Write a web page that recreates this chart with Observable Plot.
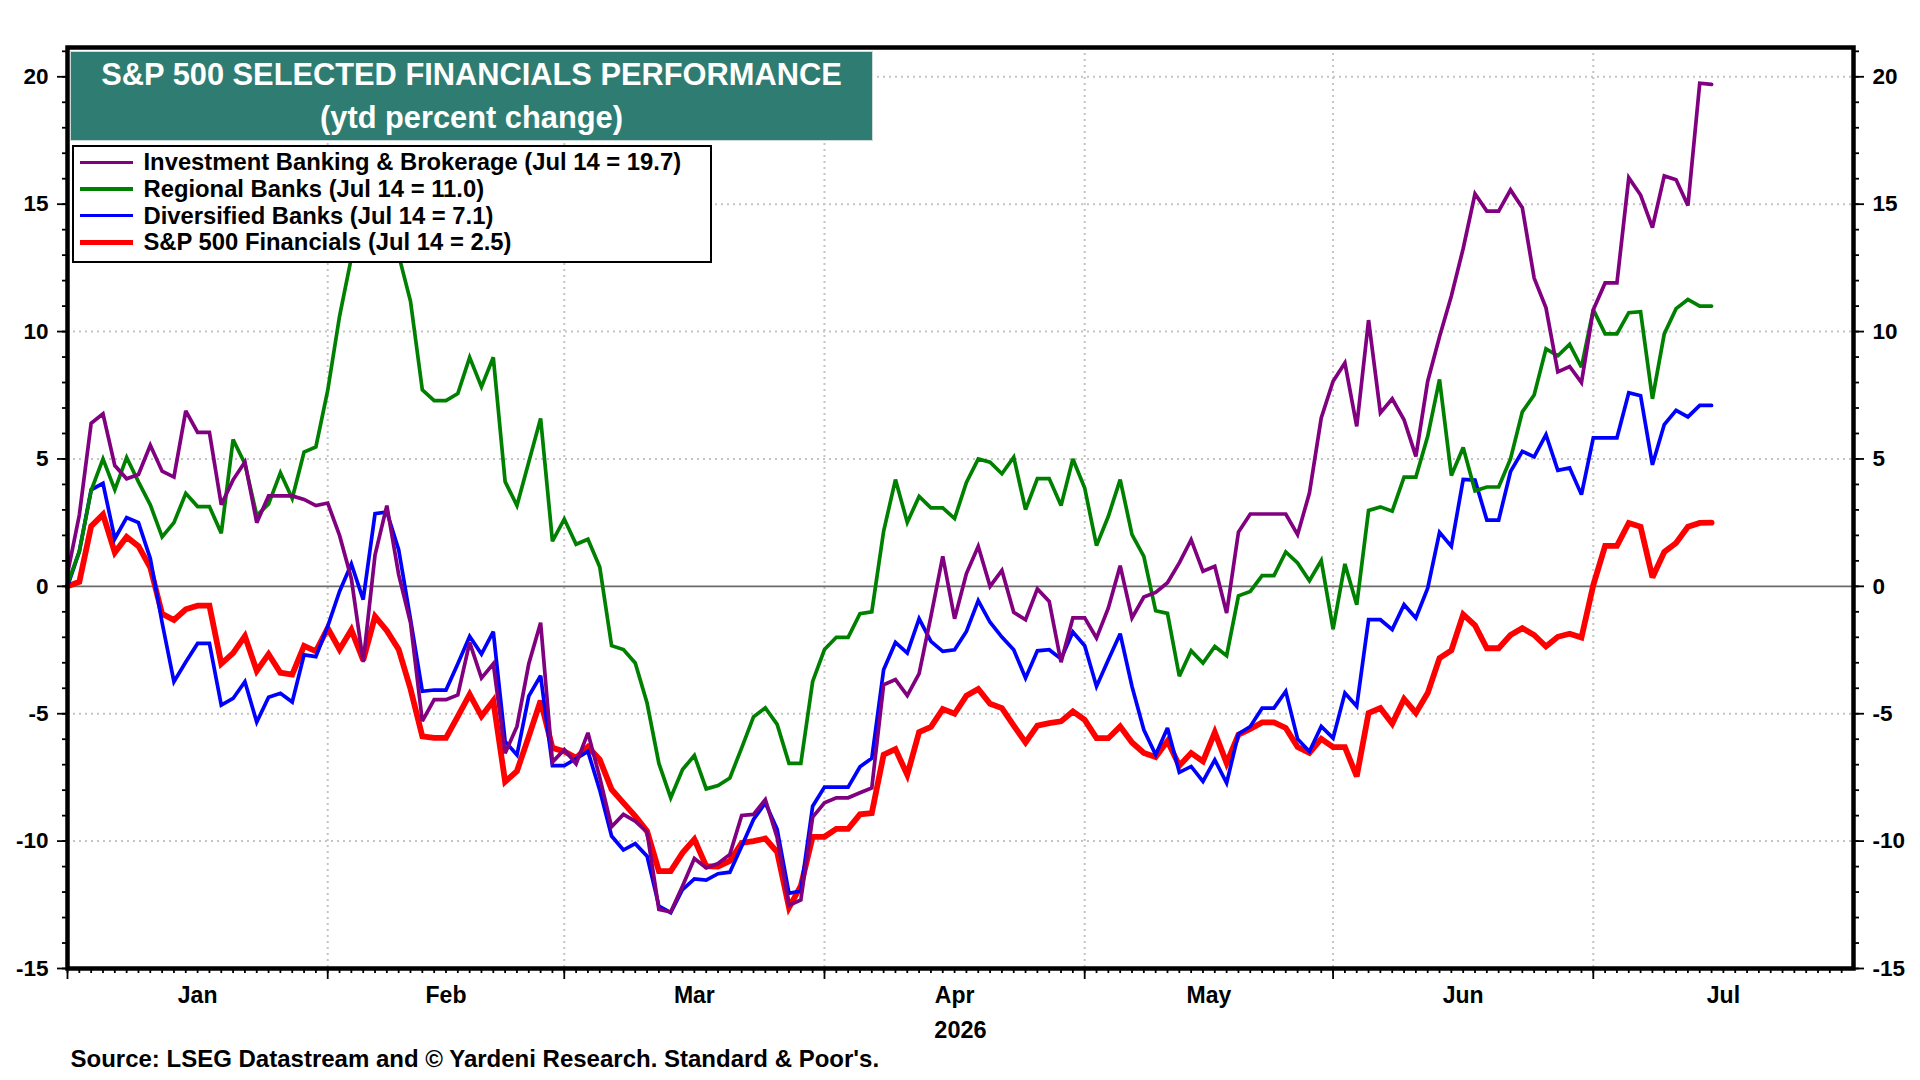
<!DOCTYPE html>
<html><head><meta charset="utf-8">
<script src="https://cdn.jsdelivr.net/npm/d3@7"></script>
<script src="https://cdn.jsdelivr.net/npm/@observablehq/plot@0.6"></script>
<style>
html,body{margin:0;padding:0;background:#fff;}
#wrap{position:relative;width:1920px;height:1080px;overflow:hidden;font-family:"Liberation Sans",Arial,sans-serif;font-weight:bold;}
#wrap svg{position:absolute;left:0;top:0;}
#title{position:absolute;left:70px;top:51px;width:803px;height:90px;box-sizing:border-box;background:#2f7d72;border:1px solid #c9dcd7;color:#fff;text-align:center;font-size:30.8px;line-height:42.5px;padding-top:2px;}
#legend{position:absolute;left:71.5px;top:145px;width:640px;height:118px;box-sizing:border-box;background:#fff;border:2.5px solid #000;padding-top:2px;}
.row{height:26.67px;display:flex;align-items:center;font-size:23.8px;white-space:nowrap;color:#000;}
.sw{width:53px;margin-left:6px;margin-right:11px;}
</style></head>
<body><div id="wrap"></div>
<script>
// ---- data (one value per trading day, Jan 1 .. Jul 14, 2026) ----
const months = ["Jan","Feb","Mar","Apr","May","Jun","Jul"];
const monthStart = [0,22,42,64,86,107,129];   // trading-day index of each month's first day
const xEnd = 151;
const yMin = -15, yMax = 21.15;
const majorY = [-15,-10,-5,0,5,10,15,20];
const gridY = [-10,-5,5,10,15,20];
const yearLabel = "2026";
const titleLines = ["S&P 500 SELECTED FINANCIALS PERFORMANCE", "(ytd percent change)"];
const sourceText = "Source: LSEG Datastream and \u00A9 Yardeni Research. Standard & Poor's.";

const seriesNames = [
  "Investment Banking & Brokerage (Jul 14 = 19.7)",
  "Regional Banks (Jul 14 = 11.0)",
  "Diversified Banks (Jul 14 = 7.1)",
  "S&P 500 Financials (Jul 14 = 2.5)"
];
const seriesColors = ["#800080", "#008000", "#0000ff", "#ff0000"];
const seriesWidths = [3.7, 3.7, 3.7, 5.8];

const ibb = [0.5,2.8,6.4,6.77,4.74,4.22,4.39,5.54,4.52,4.29,
  6.89,6.04,6.04,3.2,4.18,4.88,2.5,3.55,3.55,3.55,
  3.41,3.17,3.27,2.0,0.3,-2.97,1.23,3.17,0.46,-1.43,
  -5.29,-4.45,-4.45,-4.26,-2.2,-3.6,-3.04,-6.55,-5.5,-3.04,
  -1.43,-6.9,-6.41,-6.97,-5.75,-7.5,-9.44,-8.95,-9.22,-9.65,
  -12.68,-12.78,-11.76,-10.68,-11.05,-10.88,-10.52,-8.99,-8.95,-8.37,
  -9.87,-12.52,-12.31,-9.06,-8.5,-8.3,-8.3,-8.1,-7.91,-3.86,
  -3.66,-4.29,-3.43,-1.18,1.18,-1.27,0.5,1.57,0.0,0.63,
  -1.02,-1.31,-0.1,-0.59,-2.98,-1.24,-1.24,-2.03,-0.85,0.81,
  -1.24,-0.42,-0.24,0.14,0.92,1.83,0.59,0.79,-1.05,2.13,
  2.84,2.84,2.84,2.84,2.03,3.66,6.61,8.05,8.77,6.28,
  10.45,6.81,7.36,6.54,5.1,8.05,9.8,11.4,13.26,15.41,
  14.73,14.73,15.56,14.86,12.1,10.93,8.42,8.63,8.0,10.86,
  11.91,11.91,16.04,15.36,14.08,16.11,15.96,14.95,19.75,19.7];

const reg = [0.1,1.37,3.76,5.0,3.79,5.06,4.1,3.2,1.94,2.5,
  3.65,3.13,3.13,2.08,5.76,4.81,2.78,3.23,4.46,3.45,
  5.27,5.47,7.69,10.6,12.9,14.0,14.5,13.8,13.0,11.19,
  7.71,7.29,7.29,7.57,8.99,7.83,8.99,4.11,3.17,4.88,
  6.59,1.77,2.64,1.65,1.85,0.76,-2.33,-2.48,-3.01,-4.58,
  -6.95,-8.3,-7.19,-6.64,-7.95,-7.82,-7.52,-6.34,-5.12,-4.77,
  -5.42,-6.95,-6.95,-3.73,-2.48,-2.0,-2.0,-1.07,-1.0,2.16,
  4.19,2.51,3.53,3.08,3.08,2.66,4.08,5.0,4.87,4.42,
  5.07,3.01,4.23,4.23,3.17,5.0,3.86,1.6,2.75,4.19,
  2.03,1.18,-0.96,-1.06,-3.53,-2.53,-3.01,-2.36,-2.72,-0.37,
  -0.2,0.42,0.42,1.35,0.92,0.22,1.01,-1.68,0.88,-0.72,
  2.98,3.12,2.95,4.29,4.29,5.89,8.12,4.35,5.45,3.75,
  3.9,3.9,5.0,6.85,7.51,9.32,9.05,9.5,8.6,10.86,
  9.91,9.91,10.74,10.78,7.36,9.91,10.9,11.26,11.0,11.0];

const div = [0,1.37,3.79,4.04,1.87,2.7,2.5,1.09,-1.43,-3.74,
  -2.97,-2.24,-2.24,-4.66,-4.4,-3.74,-5.33,-4.35,-4.2,-4.54,
  -2.69,-2.76,-1.57,-0.2,0.88,-0.52,2.85,2.92,1.44,-1.29,
  -4.12,-4.07,-4.07,-3.04,-1.96,-2.66,-1.78,-6.09,-6.62,-4.31,
  -3.51,-7.04,-7.04,-6.76,-6.48,-8.0,-9.8,-10.35,-10.1,-10.59,
  -12.55,-12.81,-11.9,-11.48,-11.53,-11.28,-11.22,-10.2,-9.15,-8.5,
  -9.54,-12.05,-11.96,-8.63,-7.88,-7.88,-7.88,-7.08,-6.75,-3.27,
  -2.2,-2.62,-1.27,-2.16,-2.55,-2.49,-1.77,-0.56,-1.41,-1.99,
  -2.49,-3.6,-2.53,-2.49,-2.85,-1.79,-2.33,-3.93,-2.88,-1.86,
  -3.93,-5.63,-6.61,-5.56,-7.3,-7.07,-7.66,-6.81,-7.72,-5.79,
  -5.5,-4.78,-4.78,-4.12,-5.99,-6.48,-5.5,-5.96,-4.19,-4.71,
  -1.31,-1.31,-1.7,-0.72,-1.24,-0.07,2.12,1.57,4.2,4.17,
  2.6,2.6,4.5,5.3,5.08,5.95,4.55,4.65,3.6,5.83,
  5.83,5.83,7.6,7.48,4.77,6.35,6.91,6.65,7.1,7.1];

const fin = [0,0.18,2.36,2.82,1.33,1.94,1.58,0.74,-1.08,-1.32,
  -0.9,-0.76,-0.76,-3.04,-2.62,-1.95,-3.32,-2.66,-3.39,-3.46,
  -2.34,-2.55,-1.64,-2.48,-1.71,-2.9,-1.18,-1.74,-2.48,-4.03,
  -5.89,-5.95,-5.95,-5.1,-4.24,-5.1,-4.49,-7.67,-7.25,-5.89,
  -4.49,-6.34,-6.48,-6.73,-6.3,-6.8,-7.97,-8.5,-9.02,-9.61,
  -11.18,-11.18,-10.46,-9.93,-10.98,-11.0,-10.78,-10.07,-10.0,-9.9,
  -10.43,-12.61,-11.76,-9.83,-9.83,-9.52,-9.52,-8.95,-8.9,-6.61,
  -6.39,-7.4,-5.72,-5.52,-4.82,-5.0,-4.29,-4.03,-4.61,-4.78,
  -5.47,-6.13,-5.47,-5.37,-5.3,-4.91,-5.24,-5.96,-5.96,-5.5,
  -6.13,-6.54,-6.7,-6.07,-7.04,-6.54,-6.87,-5.73,-6.94,-5.82,
  -5.6,-5.34,-5.34,-5.56,-6.31,-6.54,-5.99,-6.31,-6.31,-7.46,
  -4.97,-4.78,-5.39,-4.42,-4.97,-4.19,-2.82,-2.51,-1.1,-1.53,
  -2.43,-2.43,-1.91,-1.64,-1.91,-2.36,-1.98,-1.86,-2.01,0.05,
  1.59,1.59,2.49,2.34,0.35,1.35,1.7,2.34,2.49,2.5];

const seriesValues = [ibb, reg, div, fin];

// ---- derived helpers ----
const minorY = d3.range(-15, 22);
const minorX = d3.range(0, xEnd);
const monthMid = monthStart.map((s, k) => (s + (k + 1 < monthStart.length ? monthStart[k + 1] : xEnd)) / 2);
const drawOrder = [3, 2, 1, 0];
const gridStyle = {stroke: "#c4c4c4", strokeWidth: 2, strokeDasharray: "2,4"};

const chart = Plot.plot({
  width: 1920, height: 1080,
  marginLeft: 67, marginRight: 67, marginTop: 47, marginBottom: 112,
  x: {type: "linear", domain: [0, xEnd]},
  y: {type: "linear", domain: [yMin, yMax]},
  style: {fontFamily: "'Liberation Sans', Arial, sans-serif", fontWeight: "bold", fontSize: "22px", color: "#000", background: "#fff", overflow: "visible"},
  marks: [
    Plot.ruleY(gridY, gridStyle),
    Plot.ruleX(monthStart.slice(1), gridStyle),
    Plot.ruleY([0], {stroke: "#6b6b6b", strokeWidth: 1.6}),
    ...drawOrder.map(k => Plot.lineY(seriesValues[k], {stroke: seriesColors[k], strokeWidth: seriesWidths[k], strokeLinejoin: "miter", strokeMiterlimit: 3})),
    Plot.axisY({anchor: "left", ticks: minorY, tickSize: 5, tickFormat: () => "", strokeWidth: 1.8, label: null}),
    Plot.axisY({anchor: "left", ticks: majorY, tickSize: 10, tickPadding: 9, tickFormat: d => String(d), fontSize: 22.5, fontWeight: "bold", strokeWidth: 1.8, label: null}),
    Plot.axisY({anchor: "right", ticks: minorY, tickSize: 5, tickFormat: () => "", strokeWidth: 1.8, label: null}),
    Plot.axisY({anchor: "right", ticks: majorY, tickSize: 10, tickPadding: 9, tickFormat: d => String(d), fontSize: 22.5, fontWeight: "bold", strokeWidth: 1.8, label: null}),
    Plot.axisX({anchor: "bottom", ticks: minorX, tickSize: 5, tickFormat: () => "", strokeWidth: 1.8, label: null}),
    Plot.axisX({anchor: "bottom", ticks: monthStart, tickSize: 11, tickFormat: () => "", strokeWidth: 1.8, label: null}),
    Plot.text(months, {x: monthMid, text: d => d, frameAnchor: "bottom", dy: 27.5, lineAnchor: "middle", fontSize: 23, fontWeight: "bold"}),
    Plot.text([yearLabel], {text: d => d, frameAnchor: "bottom", dy: 62, lineAnchor: "middle", fontSize: 23.5, fontWeight: "bold"}),
    Plot.text([sourceText], {text: d => d, frameAnchor: "bottom-left", dx: 3, dy: 91, textAnchor: "start", lineAnchor: "middle", fontSize: 24, fontWeight: "bold"}),
    Plot.frame({stroke: "#000", strokeWidth: 4.5})
  ]
});

const wrap = document.getElementById("wrap");
wrap.appendChild(chart);

const title = document.createElement("div");
title.id = "title";
title.innerHTML = titleLines.map(t => `<div>${t.replace(/&/g, "&amp;")}</div>`).join("");
wrap.appendChild(title);

const legend = document.createElement("div");
legend.id = "legend";
seriesNames.forEach((name, k) => {
  const row = document.createElement("div");
  row.className = "row";
  const sw = document.createElement("div");
  sw.className = "sw";
  sw.style.height = (k === 3 ? 5 : 3.5) + "px";
  sw.style.background = seriesColors[k];
  const tx = document.createElement("span");
  tx.textContent = name;
  row.appendChild(sw);
  row.appendChild(tx);
  legend.appendChild(row);
});
wrap.appendChild(legend);
</script></body></html>
